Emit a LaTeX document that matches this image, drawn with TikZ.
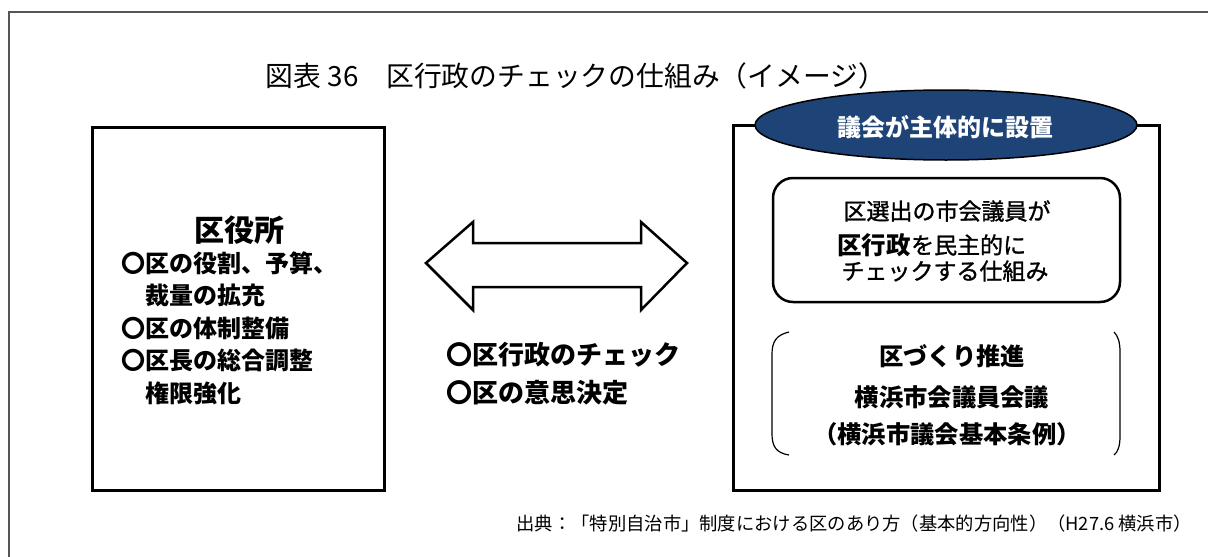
\documentclass[tikz,border=0pt]{standalone}
\usepackage{fontspec}
\usetikzlibrary{shapes.geometric}
\setmainfont{Noto Sans CJK JP}
\newfontfamily\jpmed[FakeBold=1.2]{Noto Sans CJK JP}
\definecolor{navy}{HTML}{1D4377}
\definecolor{framegray}{HTML}{555555}
\begin{document}
\begin{tikzpicture}[x=1pt,y=-1pt,
  box/.style={draw=black,line width=3pt},
  bodytxt/.style={font=\fontsize{24}{24}\selectfont\bfseries,anchor=west,inner sep=0pt},
  midtxt/.style={font=\fontsize{26}{26}\selectfont\bfseries,anchor=west,inner sep=0pt},
  bracktxt/.style={font=\fontsize{24.3}{24.3}\selectfont\bfseries,inner sep=0pt},
  rtxt/.style={font=\fontsize{23}{23}\selectfont\jpmed,inner sep=0pt}]
\useasboundingbox (0,0) rectangle (1208,557);
\fill[white] (0,0) rectangle (1208,557);
% outer frame
\draw[framegray,line width=1.5pt] (9,557) -- (9,12) -- (1208,12);
% title
\node[font=\fontsize{27.8}{27.8}\selectfont,inner sep=0pt] (title) at (576,76) {図表 36　区行政のチェックの仕組み（イメージ）};
% left box
\node[box,minimum width=292pt,minimum height=363pt,inner sep=0pt] (ward) at (238,308.5) {};
\node[font=\fontsize{30}{30}\selectfont\bfseries,inner sep=0pt] (wardttl) at (239,230) {区役所};
\node[bodytxt] (l1) at (121,263) {〇区の役割、予算、};
\node[bodytxt] (l2) at (145,295) {裁量の拡充};
\node[bodytxt] (l3) at (121,328) {〇区の体制整備};
\node[bodytxt] (l4) at (121,360) {〇区長の総合調整};
\node[bodytxt] (l5) at (145,393) {権限強化};
% double arrow
\draw[line width=2.5pt,line join=miter,fill=white] (426,263) -- (473,222) -- (473,243) -- (641,243) -- (641,222) -- (687,263) -- (641,310) -- (641,287) -- (473,287) -- (473,310) -- cycle;
\node[midtxt] (m1) at (446,355) {〇区行政のチェック};
\node[midtxt] (m2) at (446,393) {〇区の意思決定};
% right box
\node[box,minimum width=426pt,minimum height=365pt,inner sep=0pt] (council) at (946,307.5) {};
\node[ellipse,draw=black,line width=1.5pt,fill=navy,minimum width=382pt,minimum height=70pt,inner sep=0pt] (oval) at (946,125) {};
\node[font=\fontsize{24}{24}\selectfont\bfseries,text=white,inner sep=0pt] (ovaltxt) at (945,127) {議会が主体的に設置};
% rounded rect
\node[draw=black,line width=2.5pt,rounded corners=20pt,minimum width=347pt,minimum height=124pt,inner sep=0pt] (rr) at (946.5,240) {};
\node[rtxt] (r1) at (947,211) {区選出の市会議員が};
\node[font=\fontsize{24.5}{24.5}\selectfont\bfseries,anchor=west,inner sep=0pt] (r2a) at (837,245) {区行政};
\node[rtxt,anchor=west] (r2b) at (r2a.east) {を民主的に};
\node[rtxt] (r3) at (945,271) {チェックする仕組み};
% brackets
\draw[line width=1.2pt] (789,332) .. controls (776,335) and (772,342) .. (772,354) -- (772,434) .. controls (772,446) and (776,453) .. (789,455);
\draw[line width=1.2pt] (1114,332) .. controls (1118,336) and (1120,342) .. (1120,352) -- (1120,436) .. controls (1120,446) and (1118,452) .. (1114,455);
\node[bracktxt] (b1) at (952,356) {区づくり推進};
\node[bracktxt] (b2) at (952,397) {横浜市会議員会議};
\node[bracktxt] (b3) at (947,434) {（横浜市議会基本条例）};
% caption
\node[font=\fontsize{18.3}{18.3}\selectfont,anchor=east,inner sep=0pt] (src) at (1192,524) {出典：「特別自治市」制度における区のあり方（基本的方向性）（H27.6 横浜市）};
\end{tikzpicture}
\end{document}
